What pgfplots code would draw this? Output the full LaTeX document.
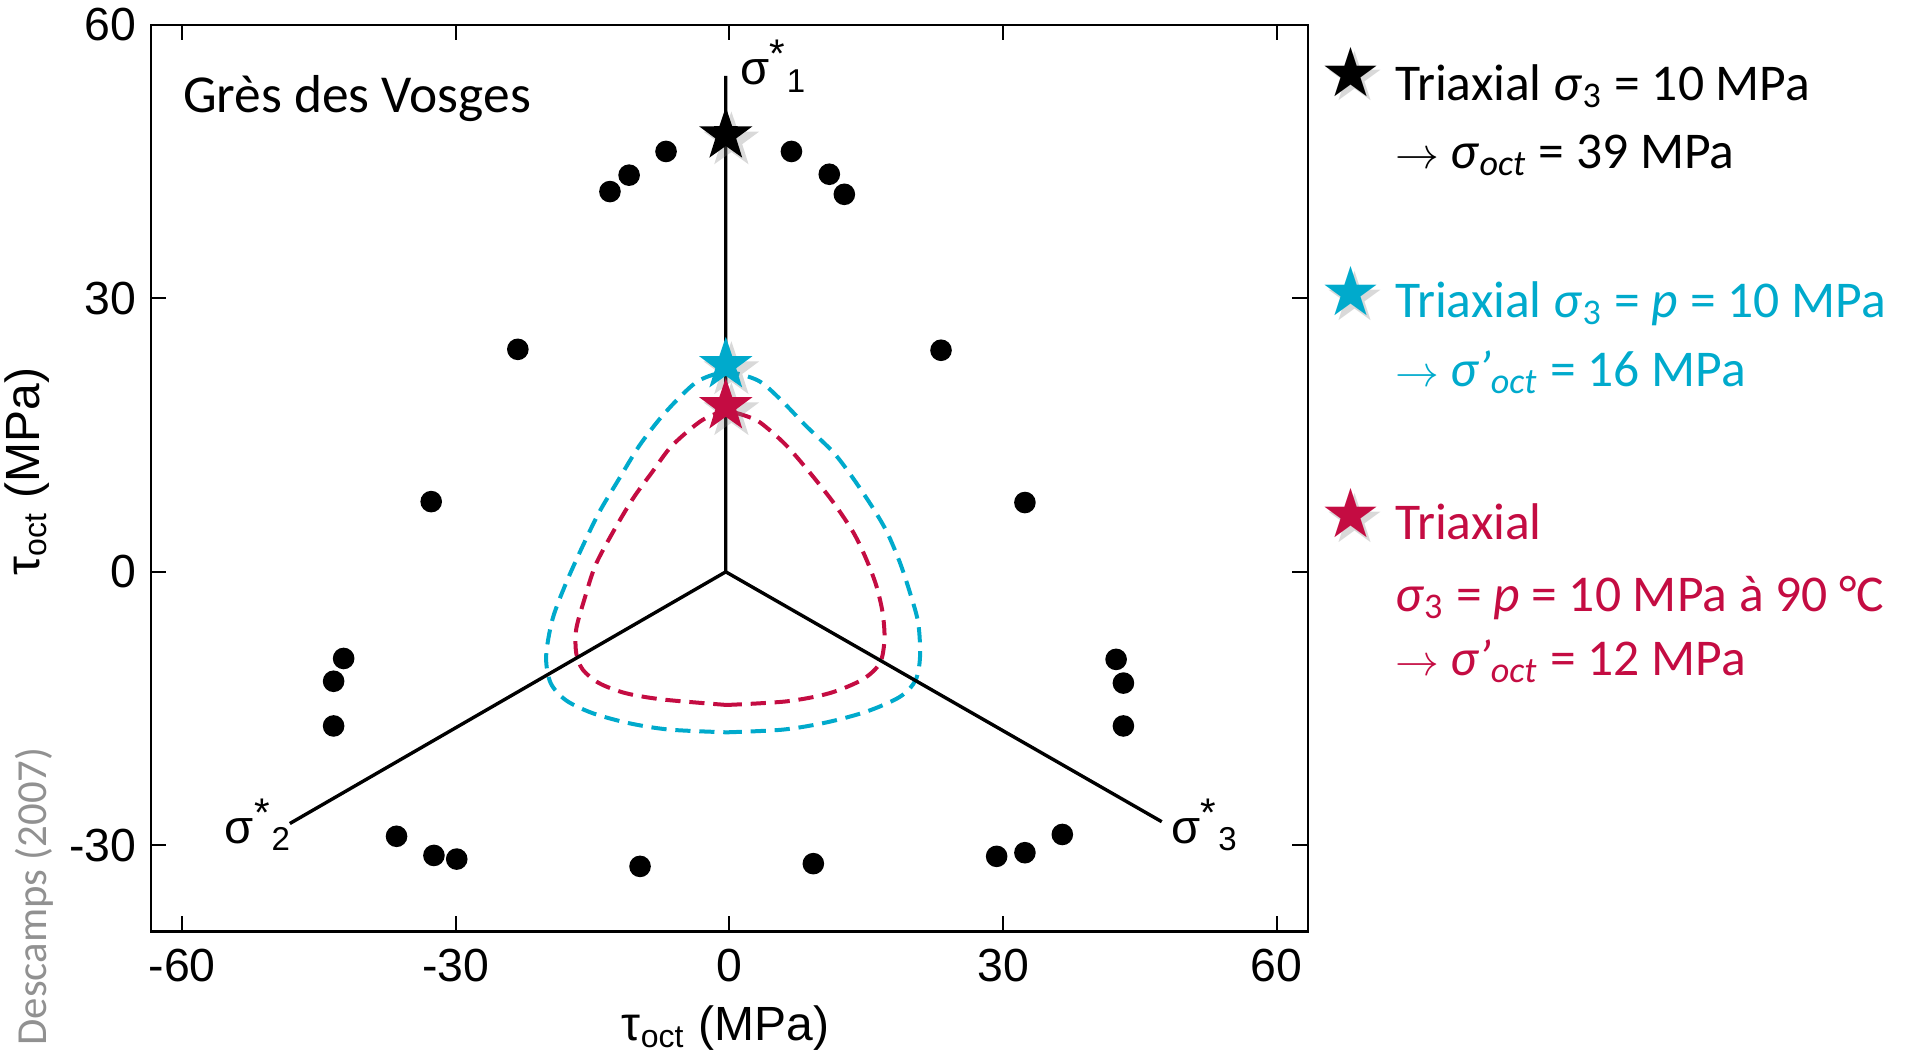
\documentclass[border=0pt]{standalone}
\usepackage{fontspec}
\setmainfont{Liberation Sans}
\newfontfamily\carlito{Carlito}
\newfontfamily\dejavu{DejaVu Sans}
\usepackage{pgfplots}
\pgfplotsset{compat=1.18}

\definecolor{cyanfit}{RGB}{0,170,204}
\definecolor{redfit}{RGB}{196,12,66}
\definecolor{refgray}{RGB}{145,145,145}

% filled five-point star
\pgfdeclareplotmark{fstar}{%
  \pgfpathmoveto{\pgfpointpolar{90}{\pgfplotmarksize}}%
  \pgfpathlineto{\pgfpointpolar{126}{0.39\pgfplotmarksize}}%
  \pgfpathlineto{\pgfpointpolar{162}{\pgfplotmarksize}}%
  \pgfpathlineto{\pgfpointpolar{198}{0.39\pgfplotmarksize}}%
  \pgfpathlineto{\pgfpointpolar{234}{\pgfplotmarksize}}%
  \pgfpathlineto{\pgfpointpolar{270}{0.39\pgfplotmarksize}}%
  \pgfpathlineto{\pgfpointpolar{306}{\pgfplotmarksize}}%
  \pgfpathlineto{\pgfpointpolar{342}{0.39\pgfplotmarksize}}%
  \pgfpathlineto{\pgfpointpolar{18}{\pgfplotmarksize}}%
  \pgfpathlineto{\pgfpointpolar{54}{0.39\pgfplotmarksize}}%
  \pgfpathclose
  \pgfusepathqfill
}

\newcommand{\lgd}{\carlito\fontsize{12.9}{15}\selectfont}
\newcommand{\starfont}{\dejavu\fontsize{17}{17}\selectfont}
\newcommand{\arr}{{\fontsize{11}{11}\selectfont$\rightarrow$}}
\newcommand{\sig}[1]{σ\textsuperscript{\fontsize{10}{10}\selectfont *}\textsubscript{#1}}

\begin{document}
\begin{tikzpicture}
\begin{axis}[
    width=289.25pt, height=226.75pt, scale only axis,
    xmin=-63.45, xmax=63.4, ymin=-39.45, ymax=60,
    xtick={-60,-30,0,30,60}, xticklabels={-60,-30,0,30,60},
    ytick={-30,0,30,60}, yticklabels={-30,0,30,60},
    tick align=inside, major tick length=3.8pt,
    every tick/.style={black, line width=0.5pt},
    axis line style={line width=0.55pt},
    tick label style={font=\fontsize{11.6}{13}\selectfont, inner sep=0pt},
    xticklabel style={yshift=-4.1pt},
    yticklabel style={xshift=-3.4pt},
    label style={font=\fontsize{12}{14}\selectfont, inner sep=0pt},
    xlabel={τ\textsubscript{oct} (MPa)},
    ylabel={τ\textsubscript{oct} (MPa)},
    xlabel style={at={(axis description cs:0.497,-0.106)}, anchor=center},
    ylabel style={at={(axis description cs:-0.107,0.507)}, anchor=center},
    clip=false,
]
% page extent
\path (axis cs:-79.98,-52.75) rectangle (axis cs:128.9,62.71);

% fitted envelopes
\addplot[cyanfit, smooth, line width=1pt, dash pattern=on 3.8pt off 2.2pt] coordinates {
  (-0.3,-17.6) (5.9,-17.3) (10.7,-16.5) (15.1,-15.3) (18.7,-13.7) (20.4,-11.9)
  (20.9,-9.3) (20.7,-5.6) (19.8,-2.3) (18.7,1.0) (17.3,4.3) (15.8,6.9)
  (13.6,10.2) (11.4,13.1) (8.4,16.0) (5.5,19.0) (3.1,21.0) (-0.3,21.9)
  (-3.3,21.0) (-5.5,19.1) (-7.7,16.7) (-9.9,13.8) (-12.1,10.2) (-14.3,6.5)
  (-16.1,2.8) (-17.9,-1.2) (-19.4,-5.2) (-20.1,-9.3) (-19.6,-12.2) (-17.9,-14.1)
  (-15.0,-15.5) (-11.0,-16.6) (-6.6,-17.3) (-0.3,-17.6)
};
\addplot[redfit, smooth, line width=1pt, dash pattern=on 3.8pt off 2.2pt] coordinates {
  (-0.3,-14.6) (6.3,-14.2) (11.0,-13.3) (14.6,-11.8) (16.5,-10.0) (17.0,-7.4)
  (16.8,-4.5) (16.1,-1.5) (15.0,1.4) (13.6,4.3) (11.4,7.6) (8.8,10.9)
  (6.3,13.8) (4.1,15.8) (2.6,16.8) (-0.3,17.6) (-2.7,16.8) (-4.7,15.3)
  (-6.6,13.5) (-8.5,10.9) (-10.6,8.0) (-12.8,4.3) (-14.7,0.7) (-15.9,-3.0)
  (-16.8,-6.3) (-16.8,-8.9) (-16.1,-10.7) (-14.3,-12.2) (-11.4,-13.3) (-7.3,-14.0)
  (-0.3,-14.6)
};

% principal stress axes
\addplot[black, line width=0.85pt] coordinates {(-48.2,-27.6) (-0.4,0) (-0.4,54.4)};
\addplot[black, line width=0.85pt] coordinates {(-0.4,0) (47.4,-27.4)};

% failure points
\addplot[only marks, mark=*, mark size=2.5pt, black] coordinates {
  (-13.1,41.7) (-11.0,43.5) (-6.95,46.1) (6.8,46.1) (10.95,43.6) (12.6,41.4)
  (-23.2,24.4) (23.2,24.3) (-32.7,7.7) (32.4,7.6)
  (-42.3,-9.5) (-43.4,-12.0) (-43.4,-16.9)
  (42.4,-9.6) (43.2,-12.2) (43.2,-16.9)
  (-36.5,-29.0) (-32.4,-31.1) (-29.9,-31.5) (-9.8,-32.3)
  (9.2,-32.0) (29.3,-31.2) (32.4,-30.8) (36.5,-28.8)
};

% stars with soft shadow
\addplot[only marks, mark=fstar, mark size=7.3pt, gray, opacity=0.3,
  mark options={xshift=1.4pt, yshift=-1.4pt}] coordinates {(-0.4,47.9) (-0.4,22.7) (-0.4,18.2)};
\addplot[only marks, mark=fstar, mark size=7pt, black] coordinates {(-0.4,47.9)};
\addplot[only marks, mark=fstar, mark size=7pt, cyanfit] coordinates {(-0.4,22.7)};
\addplot[only marks, mark=fstar, mark size=7pt, redfit] coordinates {(-0.4,18.2)};

% axis names
\node[anchor=base west, font=\fontsize{11.8}{13}\selectfont, inner sep=0pt] at (axis cs:1.1,53.4) {\sig{1}};
\node[anchor=base west, font=\fontsize{11.8}{13}\selectfont, inner sep=0pt] at (axis cs:-55.4,-29.8) {\sig{2}};
\node[anchor=base west, font=\fontsize{11.8}{13}\selectfont, inner sep=0pt] at (axis cs:48.4,-29.8) {\sig{3}};

\node[anchor=base west, inner sep=0pt, font=\carlito\fontsize{13.35}{15}\selectfont] at (axis cs:-60.0,50.4) {Grès des Vosges};

\node[rotate=90, anchor=center, inner sep=0pt, text=refgray, font=\carlito\fontsize{10.7}{13}\selectfont] at (axis cs:-76.25,-35.6) {Descamps (2007)};

% legend
\node[inner sep=0pt, text=gray, opacity=0.3, font=\starfont, xshift=1.2pt, yshift=-1.2pt] at (axis cs:68.1,54.85) {★};
\node[inner sep=0pt, text=black, font=\starfont] at (axis cs:68.1,54.85) {★};
\node[inner sep=0pt, text=gray, opacity=0.3, font=\starfont, xshift=1.2pt, yshift=-1.2pt] at (axis cs:68.1,30.8) {★};
\node[inner sep=0pt, text=cyanfit, font=\starfont] at (axis cs:68.1,30.8) {★};
\node[inner sep=0pt, text=gray, opacity=0.3, font=\starfont, xshift=1.2pt, yshift=-1.2pt] at (axis cs:68.1,6.4) {★};
\node[inner sep=0pt, text=redfit, font=\starfont] at (axis cs:68.1,6.4) {★};

\node[anchor=base west, inner sep=0pt, text=black, font=\lgd] at (axis cs:72.9,51.7) {Triaxial \textit{σ}\textsubscript{3} = 10 MPa};
\node[anchor=base west, inner sep=0pt, text=black, font=\lgd] at (axis cs:72.9,44.2) {\arr\ \textit{σ}\textsubscript{\textit{oct}} = 39 MPa};
\node[anchor=base west, inner sep=0pt, text=cyanfit, font=\lgd] at (axis cs:72.9,27.9) {Triaxial \textit{σ}\textsubscript{3} = \textit{p} = 10 MPa};
\node[anchor=base west, inner sep=0pt, text=cyanfit, font=\lgd] at (axis cs:72.9,20.3) {\arr\ \textit{σ’}\textsubscript{\textit{oct}} = 16 MPa};
\node[anchor=base west, inner sep=0pt, text=redfit, font=\lgd] at (axis cs:72.9,3.5) {Triaxial};
\node[anchor=base west, inner sep=0pt, text=redfit, font=\lgd] at (axis cs:72.9,-4.3) {\textit{σ}\textsubscript{3} = \textit{p} = 10 MPa à 90 °C};
\node[anchor=base west, inner sep=0pt, text=redfit, font=\lgd] at (axis cs:72.9,-11.4) {\arr\ \textit{σ’}\textsubscript{\textit{oct}} = 12 MPa};
\end{axis}
\end{tikzpicture}
\end{document}
